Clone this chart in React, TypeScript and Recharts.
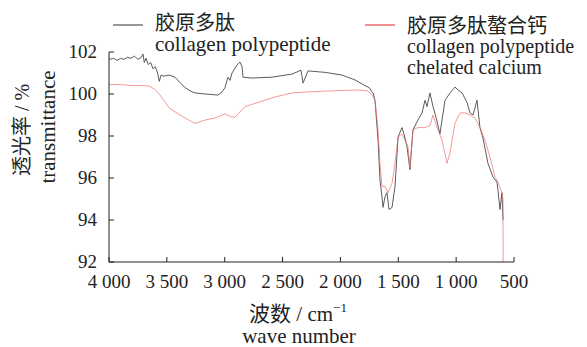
import { LineChart, Line, XAxis, YAxis } from 'recharts';

// wave number (cm-1), transmittance (%)
const polypeptideWave = [4000, 3960, 3930, 3900, 3870, 3840, 3810, 3780, 3750, 3720, 3706, 3695, 3680, 3660, 3640, 3620, 3600, 3580, 3565, 3550, 3530, 3480, 3430, 3380, 3340, 3300, 3257, 3170, 3100, 3058, 3023, 2998, 2972, 2954, 2937, 2894, 2868, 2850, 2842, 2764, 2591, 2419, 2375, 2341, 2323, 2306, 2280, 2133, 1986, 1874, 1788, 1750, 1727, 1718, 1701, 1675, 1658, 1641, 1632, 1615, 1598, 1580, 1554, 1528, 1502, 1468, 1451, 1425, 1399, 1373, 1330, 1295, 1269, 1252, 1226, 1200, 1174, 1140, 1096, 1053, 1010, 984, 949, 906, 880, 854, 820, 794, 768, 725, 682, 647, 638, 621, 604, 595];
const polypeptideT = [101.65, 101.7, 101.6, 101.7, 101.65, 101.75, 101.7, 101.8, 101.65, 101.75, 101.9, 101.5, 101.7, 101.4, 101.5, 101.2, 101.3, 101.0, 100.6, 100.9, 100.85, 100.9, 100.8, 100.5, 100.3, 100.15, 100.05, 100.0, 99.97, 99.95, 100.1, 100.3, 100.8, 100.65, 101.0, 101.38, 101.52, 101.3, 100.8, 100.76, 100.8, 100.95, 101.05, 101.14, 100.52, 100.75, 101.1, 101.03, 100.9, 100.67, 100.4, 100.3, 100.1, 100.05, 99.7, 97.8, 95.9, 95.1, 94.6, 95.1, 95.3, 94.5, 94.6, 95.6, 97.95, 98.4, 98.1, 97.5, 96.4, 98.3, 98.76, 99.1, 99.7, 99.4, 100.05, 99.4, 98.9, 98.1, 99.7, 100.05, 100.33, 100.2, 100.05, 99.6, 99.1, 99.0, 99.7, 98.4, 97.9, 96.7, 96.05, 95.8, 95.4, 94.5, 95.3, 94.0];

const chelateWave = [4000, 3900, 3800, 3700, 3650, 3600, 3559, 3473, 3343, 3257, 3170, 3084, 3023, 2998, 2937, 2911, 2825, 2712, 2565, 2419, 2280, 2133, 1848, 1762, 1727, 1701, 1675, 1658, 1641, 1615, 1589, 1554, 1528, 1502, 1468, 1442, 1416, 1399, 1373, 1330, 1269, 1226, 1200, 1165, 1122, 1079, 1053, 1010, 967, 923, 880, 837, 794, 751, 708, 664, 647, 604, 595, 594];
const chelateT = [100.45, 100.45, 100.4, 100.4, 100.38, 100.2, 99.95, 99.3, 98.86, 98.6, 98.76, 98.86, 99.0, 99.05, 98.9, 98.9, 99.4, 99.6, 99.86, 100.05, 100.1, 100.14, 100.19, 100.14, 99.95, 99.7, 98.3, 96.7, 95.6, 95.6, 95.3, 95.75, 96.7, 97.95, 98.1, 97.8, 97.5, 96.5, 98.3, 98.4, 98.4, 98.5, 99.0, 98.4, 97.8, 96.7, 97.2, 98.6, 99.1, 99.1, 99.0, 98.86, 98.4, 97.8, 97.0, 96.05, 95.9, 95.3, 94.95, 92.0];

const xTicks = [4000, 3500, 3000, 2500, 2000, 1500, 1000, 500];
const yTicks = [92, 94, 96, 98, 100, 102];

const polypeptide = polypeptideWave.map((w, i) => ({ wave: w, t: polypeptideT[i] }));
const chelate = chelateWave.map((w, i) => ({ wave: w, t: chelateT[i] }));

const FONT = '"Liberation Serif", "Noto Sans CJK SC", serif';

const fmtWave = (n: number) =>
  n >= 1000 ? `${Math.floor(n / 1000)} ${String(n % 1000).padStart(3, '0')}` : String(n);

const XTick = (props: any) => {
  const { x, y, payload } = props;
  return (
    <text x={x} y={y + 14} textAnchor="middle" fontFamily={FONT} fontSize={19} fill="#222">
      {fmtWave(payload.value)}
    </text>
  );
};

const YTick = (props: any) => {
  const { x, y, payload } = props;
  return (
    <text x={x} y={y + 6} textAnchor="end" fontFamily={FONT} fontSize={19} fill="#222">
      {payload.value}
    </text>
  );
};

export default function App() {
  return (
    <div style={{ position: 'absolute', left: 0, top: 0, width: 587, height: 347, background: '#fff', fontFamily: FONT }}>
      <LineChart width={587} height={347} margin={{ top: 52, right: 73, left: 49, bottom: 55 }}>
        <XAxis
          dataKey="wave"
          type="number"
          domain={[500, 4000]}
          reversed
          ticks={xTicks}
          allowDataOverflow
          height={30}
          stroke="#222"
          tickSize={-5}
          tickMargin={17}
          tick={<XTick />}
        />
        <YAxis
          type="number"
          domain={[92, 102]}
          ticks={yTicks}
          allowDataOverflow
          width={60}
          stroke="#222"
          tickSize={-5}
          tickMargin={17}
          tick={<YTick />}
        />
        <Line data={polypeptide} dataKey="t" type="linear" stroke="#4a4a4a" strokeWidth={0.9} dot={false} isAnimationActive={false} />
        <Line data={chelate} dataKey="t" type="linear" stroke="#f26c6c" strokeWidth={0.7} dot={false} isAnimationActive={false} />
      </LineChart>
      <svg width={587} height={347} style={{ position: 'absolute', left: 0, top: 0, pointerEvents: 'none' }}>
        <g fontFamily={FONT} fill="#222">
          <line x1={113} x2={143} y1={25} y2={25} stroke="#333" strokeWidth={1} />
          <text x={155} y={30} fontSize={20}>胶原多肽</text>
          <text x={155} y={51} fontSize={21}>collagen polypeptide</text>
          <line x1={365} x2={395} y1={25} y2={25} stroke="#d22" strokeWidth={1} />
          <text x={407} y={33} fontSize={20}>胶原多肽螯合钙</text>
          <text x={407} y={53} fontSize={20}>collagen polypeptide</text>
          <text x={407} y={74} fontSize={20}>chelated calcium</text>
          <text x={22} y={130} fontSize={20} textAnchor="middle" dominantBaseline="central" transform="rotate(-90 22 130)">透光率 / %</text>
          <text x={48} y={127} fontSize={21} textAnchor="middle" dominantBaseline="central" transform="rotate(-90 48 127)">transmittance</text>
          <text x={298} y={321} fontSize={21} textAnchor="middle">
            波数 / cm<tspan fontSize={13} dy={-9}>−1</tspan>
          </text>
          <text x={299} y={343} fontSize={21} textAnchor="middle">wave number</text>
        </g>
      </svg>
    </div>
  );
}
